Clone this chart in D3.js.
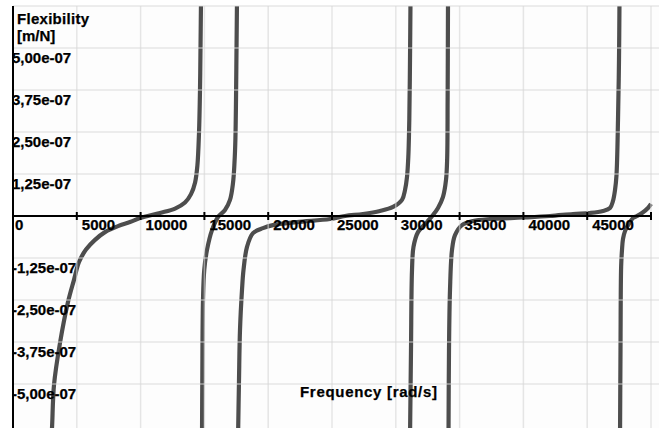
<!DOCTYPE html>
<html>
<head>
<meta charset="utf-8">
<script src="https://cdn.jsdelivr.net/npm/d3@7"></script>
<style>
  body { margin: 0; background: #fff; }
  text { font-family: "Liberation Sans", Arial, sans-serif; font-weight: bold; font-size: 15px; fill: #000; stroke: #000; stroke-width: 0.25px; }
</style>
</head>
<body>
<script>
// size of the picture
var width = 659,
	height = 428;

// tick values
var freqTicks = [0, 5000, 10000, 15000, 20000, 25000, 30000, 35000, 40000, 45000, 50000];
var freqLabels = ['0', '5000', '10000', '15000', '20000', '25000', '30000', '35000', '40000', '45000'];
var flexTicks = [6.25e-7, 5e-7, 3.75e-7, 2.5e-7, 1.25e-7, -1.25e-7, -2.5e-7, -3.75e-7, -5e-7];
var flexLabels = [5e-7, 3.75e-7, 2.5e-7, 1.25e-7, -1.25e-7, -2.5e-7, -3.75e-7, -5e-7];

// branches of the curve, [frequency rad/s, flexibility m/N]
var branch1 = [[2978, -6.67e-7], [3056, -6.31e-7], [3213, -5.03e-7], [3683, -3.78e-7], [4310, -2.56e-7],
	[4780, -1.9e-7], [5172, -1.37e-7], [5721, -1.0e-7], [6426, -0.71e-7], [7210, -0.48e-7],
	[8229, -0.3e-7], [9169, -0.18e-7], [9953, -0.06e-7], [11520, 0.09e-7], [12700, 0.22e-7],
	[13480, 0.4e-7], [13950, 0.65e-7], [14270, 1.0e-7], [14450, 1.5e-7], [14577, 2.47e-7],
	[14655, 3.75e-7], [14694, 4.97e-7], [14734, 6.43e-7]];
var branch2 = [[14812, -6.67e-7], [14836, -4.88e-7], [14890, -2.5e-7], [14990, -1.6e-7], [15204, -1.01e-7],
	[15596, -0.42e-7], [16066, -0.03e-7], [16614, 0.18e-7], [17006, 0.48e-7], [17241, 0.98e-7],
	[17360, 1.6e-7], [17430, 2.3e-7], [17477, 3.45e-7], [17516, 4.94e-7], [17555, 6.43e-7]];
var branch3 = [[17633, -6.67e-7], [17712, -4.88e-7], [17790, -3.39e-7], [17947, -2.2e-7], [18064, -1.61e-7],
	[18339, -0.92e-7], [18809, -0.51e-7], [19593, -0.36e-7], [20376, -0.27e-7], [22257, -0.18e-7],
	[24843, -0.09e-7], [26019, 0], [27430, 0.06e-7], [28762, 0.15e-7], [29781, 0.27e-7],
	[30486, 0.48e-7], [30721, 0.77e-7], [30878, 1.16e-7], [30980, 1.75e-7], [31060, 2.9e-7],
	[31113, 4.64e-7], [31152, 6.43e-7]];
var branch4 = [[31113, -6.67e-7], [31191, -3.99e-7], [31270, -1.61e-7], [31387, -0.92e-7], [31740, -0.48e-7],
	[32445, -0.18e-7], [32915, 0.03e-7], [33307, 0.24e-7], [33699, 0.57e-7], [33934, 1.07e-7],
	[34025, 1.7e-7], [34062, 3.45e-7], [34091, 6.43e-7]];
var branch5 = [[34130, -6.67e-7], [34169, -3.99e-7], [34248, -2.2e-7], [34404, -1.01e-7], [34640, -0.57e-7],
	[35188, -0.27e-7], [36050, -0.15e-7], [37382, -0.09e-7], [39969, -0.045e-7], [42085, 0],
	[43887, 0.06e-7], [45219, 0.09e-7], [46238, 0.15e-7], [46787, 0.24e-7], [47022, 0.45e-7],
	[47179, 0.77e-7], [47296, 1.22e-7], [47414, 2.86e-7], [47492, 4.64e-7], [47531, 6.43e-7]];
var branch6 = [[47571, -6.67e-7], [47610, -3.99e-7], [47660, -1.5e-7], [47727, -1.01e-7], [47806, -0.68e-7],
	[47963, -0.45e-7], [48119, -0.33e-7], [48354, -0.18e-7], [48589, -0.06e-7], [48903, 0],
	[49295, 0.09e-7], [49765, 0.24e-7], [50000, 0.36e-7]];
var branches = [branch1, branch2, branch3, branch4, branch5, branch6];

var svg = d3.select('body')
	.append('svg')
	.attr('width', width)
	.attr('height', height);

// scales
var x = d3.scaleLinear().domain([0, 50000]).range([13, 651]);
var y = d3.scaleLinear().domain([-6.25e-7, 6.25e-7]).range([426, 6]);

// "5,00e-07" style labels
function fmtE(v) {
	var s = Math.abs(v).toExponential(2).split('e');
	var ex = +s[1];
	return (v < 0 ? '-' : '') + s[0].replace('.', ',') + 'e' + (ex < 0 ? '-' : '+') + String(Math.abs(ex)).padStart(2, '0');
}

// plot background
svg.append('rect')
	.attr('x', 13).attr('y', 6)
	.attr('width', width - 13).attr('height', height - 6)
	.attr('fill', '#fdfdfd');

svg.append('defs').append('clipPath')
	.attr('id', 'plot')
	.append('rect')
	.attr('x', 13).attr('y', 6)
	.attr('width', x(50000) - 13 + 2).attr('height', height);

// curve branches
var line = d3.line()
	.x(function(d) { return x(d[0]); })
	.y(function(d) { return y(d[1]); })
	.curve(d3.curveCatmullRom.alpha(0.5));

svg.append('g')
	.attr('clip-path', 'url(#plot)')
	.selectAll('path')
	.data(branches)
	.enter().append('path')
	.attr('d', line)
	.attr('fill', 'none')
	.attr('stroke', '#4d4d4d')
	.attr('stroke-width', 4.2)
	.attr('stroke-linejoin', 'round');

// grid lies over the curve in the original
var grid = svg.append('g')
	.attr('stroke', '#d6d6d6')
	.attr('stroke-opacity', 0.6)
	.attr('stroke-width', 1.5);

grid.selectAll('.vg')
	.data(freqTicks.slice(1))
	.enter().append('line')
	.attr('x1', function(d) { return x(d); })
	.attr('x2', function(d) { return x(d); })
	.attr('y1', 6).attr('y2', height);

grid.selectAll('.hg')
	.data(flexTicks)
	.enter().append('line')
	.attr('x1', 13).attr('x2', width)
	.attr('y1', function(d) { return y(d); })
	.attr('y2', function(d) { return y(d); });

// y tick labels, just under their grid line
svg.selectAll('.ylab')
	.data(flexLabels)
	.enter().append('text')
	.attr('x', 12)
	.attr('y', function(d) { return y(d) + 14.5; })
	.text(fmtE);

// x axis
svg.append('line')
	.attr('x1', 13).attr('x2', x(50000) + 1)
	.attr('y1', y(0)).attr('y2', y(0))
	.attr('stroke', '#000').attr('stroke-width', 2);

svg.selectAll('.xtick')
	.data(freqTicks.slice(1))
	.enter().append('line')
	.attr('x1', function(d) { return x(d); })
	.attr('x2', function(d) { return x(d); })
	.attr('y1', y(0) - 4).attr('y2', y(0) + 4)
	.attr('stroke', '#000').attr('stroke-width', 2);

svg.selectAll('.xlab')
	.data(freqLabels)
	.enter().append('text')
	.attr('x', function(d) { return x(+d) + (+d === 0 ? 2 : 5); })
	.attr('y', y(0) + 14)
	.text(function(d) { return d; });

// y axis
svg.append('line')
	.attr('x1', 13).attr('x2', 13)
	.attr('y1', 6).attr('y2', height)
	.attr('stroke', '#000').attr('stroke-width', 2);

// axis titles
svg.append('text').attr('x', 17).attr('y', 24)
	.attr('textLength', 72).attr('lengthAdjust', 'spacing')
	.text('Flexibility');
svg.append('text').attr('x', 17).attr('y', 41).text('[m/N]');
svg.append('text').attr('x', 300).attr('y', 397)
	.attr('textLength', 137).attr('lengthAdjust', 'spacing')
	.text('Frequency [rad/s]');
</script>
</body>
</html>
